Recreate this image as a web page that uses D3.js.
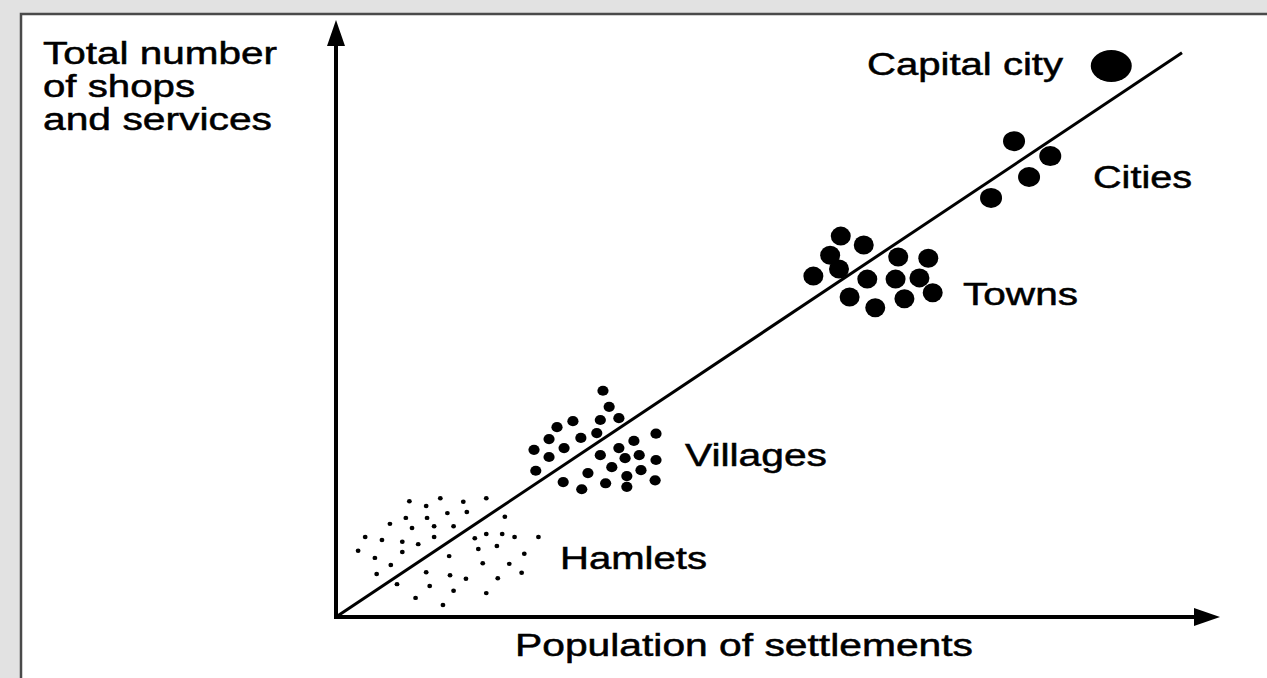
<!DOCTYPE html>
<html>
<head>
<meta charset="utf-8">
<script src="https://cdn.jsdelivr.net/npm/d3@7/dist/d3.min.js"></script>
<style>
  body { margin: 0; background: #fff; overflow: hidden; }
  svg { display: block; }
  text { font-family: "Liberation Sans", Arial, sans-serif; }
</style>
</head>
<body>
<svg id="canvas"></svg>
<script>
// Values, in relative units (0-100 on both axes).
// Each point is [population, shops and services].
var hamlets = [
  [8.3, 19.4], [11.8, 19.9], [14.4, 19.3], [17.0, 19.9], [10.2, 18.6],
  [12.6, 17.4], [14.8, 17.6], [7.9, 16.6], [10.3, 16.6], [19.1, 16.8],
  [6.1, 15.6], [8.6, 14.9], [11.1, 15.2], [13.3, 15.2], [3.3, 13.4],
  [5.2, 12.9], [7.5, 12.6], [11.1, 13.4], [15.7, 13.2], [17.0, 13.9],
  [18.8, 13.9], [20.2, 13.4], [22.9, 13.4], [9.3, 12.2], [2.5, 11.1],
  [7.5, 10.9], [16.1, 11.4], [18.2, 11.9], [21.3, 10.6], [4.4, 9.9],
  [12.8, 10.2], [6.2, 8.7], [16.6, 9.0], [19.6, 8.9], [10.2, 7.5],
  [4.6, 7.2], [12.9, 7.0], [21.0, 7.4], [14.7, 6.4], [18.3, 6.5],
  [6.9, 5.5], [10.6, 5.2], [13.3, 4.4], [17.0, 4.0], [9.0, 3.2],
  [12.1, 2.0]
];

var villages = [
  [30.2, 37.9], [30.9, 35.2], [25.0, 31.8], [26.8, 32.8], [29.9, 33.0],
  [32.0, 33.3], [24.1, 29.8], [27.7, 30.0], [29.5, 30.8], [36.2, 30.7],
  [22.4, 28.0], [25.8, 28.3], [33.7, 29.5], [32.0, 28.3], [24.1, 26.8],
  [29.9, 27.1], [32.7, 26.6], [34.3, 27.1], [36.2, 26.3], [31.2, 25.1],
  [22.6, 24.5], [34.5, 24.6], [28.5, 24.1], [32.9, 23.6], [25.7, 22.6],
  [30.5, 22.4], [36.1, 22.9], [27.8, 21.4], [32.9, 21.8]
];

var towns = [
  [57.1, 63.8], [59.7, 62.3], [55.9, 60.6], [63.6, 60.3], [67.0, 60.1],
  [56.9, 58.3], [54.0, 57.1], [60.1, 56.6], [63.3, 56.6], [66.0, 56.8],
  [58.1, 53.6], [67.5, 54.3], [64.3, 53.3], [61.0, 51.8]
];

var cities = [
  [76.7, 79.7], [80.8, 77.2], [78.4, 73.7], [74.1, 70.2]
];

var capital = [
  [87.7, 92.3]
];

// Best-fit line drawn through the groups.
var trend = [[0, 0], [95.7, 94.5]];

// Texts.
var groupNames = ['Hamlets', 'Villages', 'Towns', 'Cities', 'Capital city'];
var xTitle = 'Population of settlements';
var yTitle = ['Total number', 'of shops', 'and services'];

// Canvas size.
var canvasWidth = 1267;
var canvasHeight = 678;

var svg = d3.select('#canvas')
            .attr('width', canvasWidth)
            .attr('height', canvasHeight);

// Scanned page margin (left and top only) and the frame edge.
svg.append('rect')
   .attr('width', canvasWidth)
   .attr('height', canvasHeight)
   .attr('fill', '#e2e2e2');
svg.append('rect')
   .attr('x', 21)
   .attr('y', 14)
   .attr('width', canvasWidth)
   .attr('height', canvasHeight)
   .attr('fill', '#fff');
svg.append('path')
   .attr('d', 'M21,' + canvasHeight + 'V14H' + canvasWidth)
   .attr('fill', 'none')
   .attr('stroke', '#4a4a4a')
   .attr('stroke-width', 2.5);

// Scales.
var xScale = d3.scaleLinear().domain([0, 100]).range([336, 1220]);
var yScale = d3.scaleLinear().domain([0, 100]).range([617, 20]);

var x0 = xScale(0);
var y0 = yScale(0);
var xEnd = xScale(100);
var yEnd = yScale(100);
var arrowLen = 26;
var arrowHalf = 9;

// Axes with arrow heads.
var axes = svg.append('g');
axes.append('line')
    .attr('x1', x0).attr('y1', y0)
    .attr('x2', xEnd - arrowLen + 2).attr('y2', y0)
    .attr('stroke', '#000')
    .attr('stroke-width', 4)
    .attr('stroke-linecap', 'square');
axes.append('line')
    .attr('x1', x0).attr('y1', y0)
    .attr('x2', x0).attr('y2', yEnd + arrowLen - 2)
    .attr('stroke', '#000')
    .attr('stroke-width', 4)
    .attr('stroke-linecap', 'square');
axes.append('path')
    .attr('d', 'M' + xEnd + ',' + y0 +
               'L' + (xEnd - arrowLen) + ',' + (y0 - arrowHalf) +
               'L' + (xEnd - arrowLen) + ',' + (y0 + arrowHalf) + 'Z')
    .attr('fill', '#000');
axes.append('path')
    .attr('d', 'M' + x0 + ',' + yEnd +
               'L' + (x0 - arrowHalf) + ',' + (yEnd + arrowLen) +
               'L' + (x0 + arrowHalf) + ',' + (yEnd + arrowLen) + 'Z')
    .attr('fill', '#000');

// Trend line.
var line = d3.line()
             .x(function(d) { return xScale(d[0]); })
             .y(function(d) { return yScale(d[1]); });
svg.append('path')
   .datum(trend)
   .attr('d', line)
   .attr('fill', 'none')
   .attr('stroke', '#000')
   .attr('stroke-width', 3);

// Dots for each group of settlements.
var groups = [
  {data: hamlets, rx: 2.4, ry: 2.2},
  {data: villages, rx: 5.6, ry: 5.1},
  {data: towns, rx: 10, ry: 9.5},
  {data: cities, rx: 11, ry: 10},
  {data: capital, rx: 20.5, ry: 16}
];

groups.forEach(function(g) {
  svg.append('g')
     .selectAll('ellipse')
     .data(g.data)
     .enter()
     .append('ellipse')
     .attr('cx', function(d) { return xScale(d[0]); })
     .attr('cy', function(d) { return yScale(d[1]); })
     .attr('rx', g.rx)
     .attr('ry', g.ry)
     .attr('fill', '#000');
});

// Label placement (left edge, baseline, width), in the order of groupNames.
var groupLabelLayout = [
  [560, 569, 147],
  [685, 466, 142],
  [963, 305, 115],
  [1093, 188, 99],
  [867, 75, 196]
];

var addLabel = function(text, x, y, width) {
  svg.append('text')
     .attr('x', x)
     .attr('y', y)
     .attr('textLength', width)
     .attr('lengthAdjust', 'spacingAndGlyphs')
     .attr('font-size', 31)
     .attr('fill', '#000')
     .attr('stroke', '#000')
     .attr('stroke-width', 0.5)
     .text(text);
};

groupNames.forEach(function(name, i) {
  var p = groupLabelLayout[i];
  addLabel(name, p[0], p[1], p[2]);
});

// Axis titles.
addLabel(xTitle, 515, 656, 458);
var yTitleWidths = [234, 152, 229];
yTitle.forEach(function(t, i) {
  addLabel(t, 43, 64 + i * 33, yTitleWidths[i]);
});
</script>
</body>
</html>
